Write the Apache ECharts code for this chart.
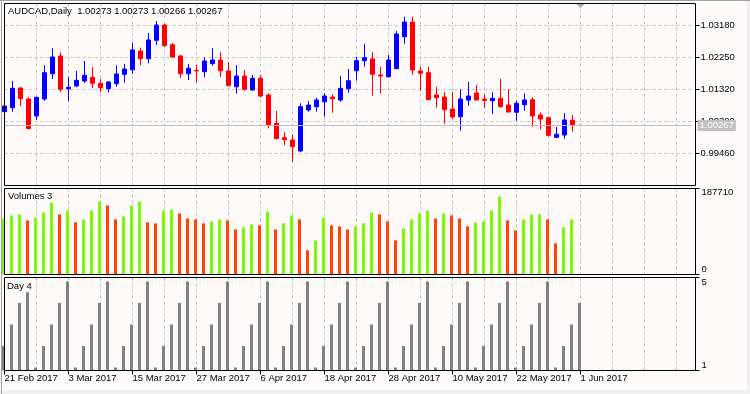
<!DOCTYPE html>
<html><head><meta charset="utf-8">
<script src="https://cdn.jsdelivr.net/npm/echarts@6/dist/echarts.min.js"></script>
<style>html,body{margin:0;padding:0;background:#FFFAFA;}#c{width:750px;height:394px;}</style>
</head><body><div id="c"></div>
<script>
// ---------------- data ----------------
const symbolName = 'AUDCAD,Daily';
const dates = ['21 Feb 2017','22 Feb 2017','23 Feb 2017','24 Feb 2017','27 Feb 2017','28 Feb 2017',
'1 Mar 2017','2 Mar 2017','3 Mar 2017','6 Mar 2017','7 Mar 2017','8 Mar 2017','9 Mar 2017','10 Mar 2017','13 Mar 2017','14 Mar 2017','15 Mar 2017','16 Mar 2017','17 Mar 2017','20 Mar 2017','21 Mar 2017','22 Mar 2017','23 Mar 2017','24 Mar 2017','27 Mar 2017','28 Mar 2017','29 Mar 2017','30 Mar 2017','31 Mar 2017',
'3 Apr 2017','4 Apr 2017','5 Apr 2017','6 Apr 2017','7 Apr 2017','10 Apr 2017','11 Apr 2017','12 Apr 2017','13 Apr 2017','14 Apr 2017','17 Apr 2017','18 Apr 2017','19 Apr 2017','20 Apr 2017','21 Apr 2017','24 Apr 2017','25 Apr 2017','26 Apr 2017','27 Apr 2017','28 Apr 2017',
'1 May 2017','2 May 2017','3 May 2017','4 May 2017','5 May 2017','8 May 2017','9 May 2017','10 May 2017','11 May 2017','12 May 2017','15 May 2017','16 May 2017','17 May 2017','18 May 2017','19 May 2017','22 May 2017','23 May 2017','24 May 2017','25 May 2017','26 May 2017','29 May 2017','30 May 2017','31 May 2017',
'1 Jun 2017'];
const opens  = [1.00668,1.00784,1.01355,1.01036,1.00544,1.01036,1.01769,1.02282,1.01335,1.01413,1.01558,1.01665,1.01491,1.01335,1.01479,1.01752,1.01885,1.02427,1.02204,1.02737,1.03180,1.02609,1.02282,1.01769,1.01868,1.01827,1.02059,1.02166,1.01847,1.01392,1.01702,1.01297,1.01636,1.01152,1.00332,0.99915,0.99848,0.99530,1.00717,1.00813,1.00958,1.01094,1.01007,1.01335,1.01856,1.02146,1.02195,1.01731,1.01682,1.01914,1.02841,1.03267,1.01847,1.01798,1.01152,1.01094,1.00746,1.00523,1.01007,1.01210,1.01036,1.00987,1.01056,1.00862,1.00651,1.00871,1.01016,1.00573,1.00494,0.99926,0.99993,1.00419,1.00273];
const closes = [1.00833,1.01346,1.01045,1.00176,1.01085,1.01798,1.02253,1.01317,1.01375,1.01578,1.01723,1.01491,1.01363,1.01529,1.01760,1.01905,1.02456,1.02204,1.02745,1.03180,1.02580,1.02253,1.01769,1.01925,1.01847,1.02137,1.02166,1.01856,1.01421,1.01702,1.01317,1.01636,1.01123,1.00283,0.99886,0.99857,0.99654,1.00813,1.00862,1.01007,1.01123,1.01045,1.01346,1.01566,1.02146,1.02233,1.01752,1.01702,1.02166,1.02919,1.03267,1.01876,1.01781,1.01016,1.01074,1.00726,1.00515,1.01036,1.01123,1.01007,1.00993,1.01056,1.00813,1.00659,1.00911,1.01007,1.00544,1.00457,0.99984,1.00013,1.00428,1.00273,1.00267];
const lows   = [1.00640,1.00668,1.00833,1.00176,1.00428,1.00987,1.01616,1.01230,1.00987,1.01375,1.01500,1.01355,1.01230,1.01230,1.01392,1.01508,1.01760,1.02021,1.02070,1.02601,1.02551,1.02224,1.01644,1.01587,1.01508,1.01665,1.02001,1.01673,1.01421,1.01190,1.01277,1.01277,1.01085,1.00187,0.99886,0.99703,0.99211,0.99501,1.00668,1.00668,1.00523,1.00639,1.00958,1.01219,1.01566,1.01972,1.01132,1.01190,1.01665,1.01914,1.02638,1.01740,1.01277,1.01016,1.00784,1.00321,1.00457,1.00118,1.00842,1.01007,1.00775,1.00601,1.00784,1.00659,1.00407,1.00697,1.00225,1.00147,0.99955,0.99926,0.99886,1.00089,1.00266];
const highs  = [1.00860,1.01558,1.01375,1.01085,1.01103,1.02021,1.02505,1.02389,1.01673,1.01847,1.02137,1.01954,1.01616,1.01558,1.02012,1.02050,1.02659,1.02522,1.02948,1.03296,1.03209,1.02659,1.02311,1.02050,1.02021,1.02244,1.02505,1.02389,1.02108,1.02021,1.01876,1.01731,1.01731,1.01201,1.00688,1.00080,1.00013,1.00911,1.00978,1.01074,1.01201,1.01172,1.01702,1.01905,1.02262,1.02638,1.02398,1.01972,1.02311,1.03006,1.03420,1.03420,1.01972,1.01972,1.01384,1.01239,1.01239,1.01317,1.01537,1.01442,1.01181,1.01230,1.01616,1.01326,1.00987,1.01201,1.01085,1.00651,1.00523,1.00225,1.00622,1.00573,1.00273];
const volumes = [121800,129000,131200,118100,124600,135500,157300,131200,139900,113800,
120300,139900,159400,150700,120300,126800,150700,159400,113800,111600,
139900,142000,133300,122500,120300,111600,115900,120300,118100,98500,
102900,109400,107200,137700,98500,111600,129000,120300,52900,74600,
124600,107200,105100,98500,105100,111600,135500,131200,115900,74600,
100700,120300,133300,139900,122500,133300,129000,122500,105100,113800,
115900,139900,170300,118100,96400,120300,131200,131500,120300,68100,
102900,120300,0];
const dayValues = [2,3,4,4.5,
1,2,3,4,5, 1,2,3,4,5, 1,2,3,4,5, 1,2,3,4,5, 1,2,3,4,5,
1,2,3,4,5, 1,2,3,4,5, 1,2,3,4,5, 1,2,3,4,5, 1,2,3,4,5,
1,2,3,4,5, 1,2,3,4,5, 1,2,3,4,5,
1,2,3,4];
const priceTicks = [0.99460, 1.00390, 1.01320, 1.02250, 1.03180];
const volumeTicks = [0, 187710];
const dayTicks = [1, 5];

// ---------------- layout / style ----------------
const FONT = 'Liberation Sans';
const FS = 9.5;
const N_FUTURE = 14;
const categories = dates.concat(new Array(N_FUTURE).fill(''));
const lastIdx = dates.length - 1;
const STEP = 8;
const W = (categories.length - 1) * STEP;
const gridDash = {color: '#C0C0C0', type: [3, 3], width: 1};
const txt = {fontFamily: FONT, fontSize: FS, color: '#000'};

const ohlc = dates.map((d, i) => [opens[i], closes[i], lows[i], highs[i]]);

function xAx(gridIndex, opts) {
  return Object.assign({
    type: 'category', gridIndex, data: categories, boundaryGap: false,
    axisLine: {show: false}, axisTick: {show: false}, axisLabel: {show: false},
    splitLine: {show: false}
  }, opts || {});
}
const splitX = {show: true, interval: (i) => i > 0 && i % 4 === 0, lineStyle: gridDash};

const chart = echarts.init(document.getElementById('c'));
chart.setOption({
  animation: false,
  backgroundColor: '#FFFAFA',
  title: [
    {text: symbolName + '  ' + [opens[lastIdx], highs[lastIdx], lows[lastIdx], closes[lastIdx]].map(v => v.toFixed(5)).join(' '),
     left: 8, top: 6, padding: 0, textStyle: Object.assign({fontWeight: 'normal'}, txt)},
    {text: 'Volumes 3', left: 8, top: 191, padding: 0, textStyle: Object.assign({fontWeight: 'normal'}, txt)},
    {text: 'Day 4', left: 7, top: 281, padding: 0, textStyle: Object.assign({fontWeight: 'normal'}, txt)}
  ],
  grid: [
    {left: 4.5, top: 3.5, width: W, height: 182},   // price
    {left: 3.5, top: 188.5, width: W, height: 86},  // volume bars
    {left: 3.5, top: 277.5, width: W, height: 93},  // day bars
    {left: 4.5, top: 188.5, width: W, height: 86},  // volume grid lines
    {left: 4.5, top: 277.5, width: W, height: 93}   // day grid lines + dates
  ],
  xAxis: [
    xAx(0, {splitLine: splitX}),
    xAx(1),
    xAx(2),
    xAx(3, {splitLine: splitX}),
    xAx(4, {
      splitLine: splitX,
      axisTick: {show: true, length: 4, inside: false, lineStyle: {color: '#000'},
                 interval: (i) => i % 8 === 0 && i <= lastIdx},
      axisLabel: Object.assign({show: true, align: 'left', margin: 3,
                 interval: (i) => i % 8 === 0 && i <= lastIdx}, txt)
    })
  ],
  yAxis: [
    {gridIndex: 0, type: 'value', position: 'right', offset: 3, min: 0.98530, max: 1.03803,
     axisLine: {show: false},
     axisTick: {show: true, length: 4, customValues: priceTicks, lineStyle: {color: '#000'}},
     axisLabel: Object.assign({show: true, customValues: priceTicks, margin: 5, formatter: v => v.toFixed(5)}, txt),
     splitLine: {show: true, lineStyle: gridDash}},
    {gridIndex: 1, type: 'value', position: 'right', offset: 4, min: 0, max: 187710,
     axisLine: {show: false},
     axisTick: {show: true, length: 4, customValues: volumeTicks, lineStyle: {color: '#000'}},
     axisLabel: {show: true, customValues: volumeTicks, margin: 6,
       formatter: v => v === volumeTicks[volumeTicks.length - 1] ? '{t|' + v + '}' : '{b|' + v + '}',
       rich: {t: Object.assign({padding: [7, 0, 0, 0]}, txt), b: Object.assign({padding: [0, 0, 10, 0]}, txt)}},
     splitLine: {show: false}},
    {gridIndex: 2, type: 'value', min: 0.8605, max: 5.186, show: false},
    {gridIndex: 4, type: 'value', position: 'right', offset: 3, min: 1, max: 5,
     axisLine: {show: false},
     axisTick: {show: true, length: 4, customValues: dayTicks, lineStyle: {color: '#000'}},
     axisLabel: {show: true, customValues: dayTicks, margin: 6,
       formatter: v => v === dayTicks[dayTicks.length - 1] ? '{t|' + v + '}' : '{b|' + v + '}',
       rich: {t: Object.assign({padding: [10, 0, 0, 0]}, txt), b: Object.assign({padding: [0, 0, 10, 0]}, txt)}},
     splitLine: {show: false}},
    {gridIndex: 3, type: 'value', min: 0, max: 1, show: false}
  ],
  series: [
    {type: 'candlestick', xAxisIndex: 0, yAxisIndex: 0, barWidth: 4, data: ohlc,
     itemStyle: {color: '#0000FF', color0: '#FF0000', borderColor: '#0000FF', borderColor0: '#FF0000', borderWidth: 1},
     emphasis: {disabled: true},
     markLine: {silent: true, symbol: ['none', 'none'], animation: false, precision: 5,
       data: [{yAxis: closes[lastIdx]}],
       lineStyle: {color: '#C0C0C0', type: 'solid', width: 1},
       emphasis: {disabled: true},
       label: {show: true, position: 'end', distance: 5, formatter: p => Number(p.value).toFixed(5),
         color: '#FFFFFF', backgroundColor: '#C0C0C0', padding: [1, 2, 0, 2], fontFamily: FONT, fontSize: FS}}},
    {type: 'bar', xAxisIndex: 1, yAxisIndex: 1, barWidth: 3, data: volumes,
     emphasis: {disabled: true},
     itemStyle: {color: p => (p.dataIndex === 0 || volumes[p.dataIndex] > volumes[p.dataIndex - 1]) ? '#7CFC00' : '#FF4500'}},
    {type: 'bar', xAxisIndex: 2, yAxisIndex: 2, barWidth: 3, data: dayValues,
     emphasis: {disabled: true}, itemStyle: {color: '#808080'}}
  ],
  graphic: [
    {type: 'rect', silent: true, z: 100, shape: {x: 4.5, y: 3.5, width: 691, height: 182}, style: {fill: null, stroke: '#000', lineWidth: 1}},
    {type: 'rect', silent: true, z: 100, shape: {x: 4.5, y: 188.5, width: 691, height: 86}, style: {fill: null, stroke: '#000', lineWidth: 1}},
    {type: 'rect', silent: true, z: 100, shape: {x: 4.5, y: 277.5, width: 691, height: 93}, style: {fill: null, stroke: '#000', lineWidth: 1}},
    {type: 'line', silent: true, z: 100, shape: {x1: 0, y1: 0.5, x2: 750, y2: 0.5}, style: {stroke: '#A0A0A0', lineWidth: 1}},
    {type: 'line', silent: true, z: 100, shape: {x1: 1.5, y1: 0, x2: 1.5, y2: 394}, style: {stroke: '#A0A0A0', lineWidth: 1}},
    {type: 'rect', silent: true, z: 99, shape: {x: 0, y: 390, width: 750, height: 4}, style: {fill: '#F0F0F0'}},
    {type: 'rect', silent: true, z: 99, shape: {x: 747, y: 0, width: 3, height: 394}, style: {fill: '#F0F0F0'}}
  ]
});
// chart-shift marker above the last bar
const lx = chart.convertToPixel({xAxisIndex: 0}, lastIdx);
chart.setOption({graphic: [{id: 'shift', type: 'polygon', silent: true, z: 101,
  shape: {points: [[lx - 4, 4], [lx + 4, 4], [lx, 8]]}, style: {fill: '#A8A8A8'}}]});
</script></body></html>
